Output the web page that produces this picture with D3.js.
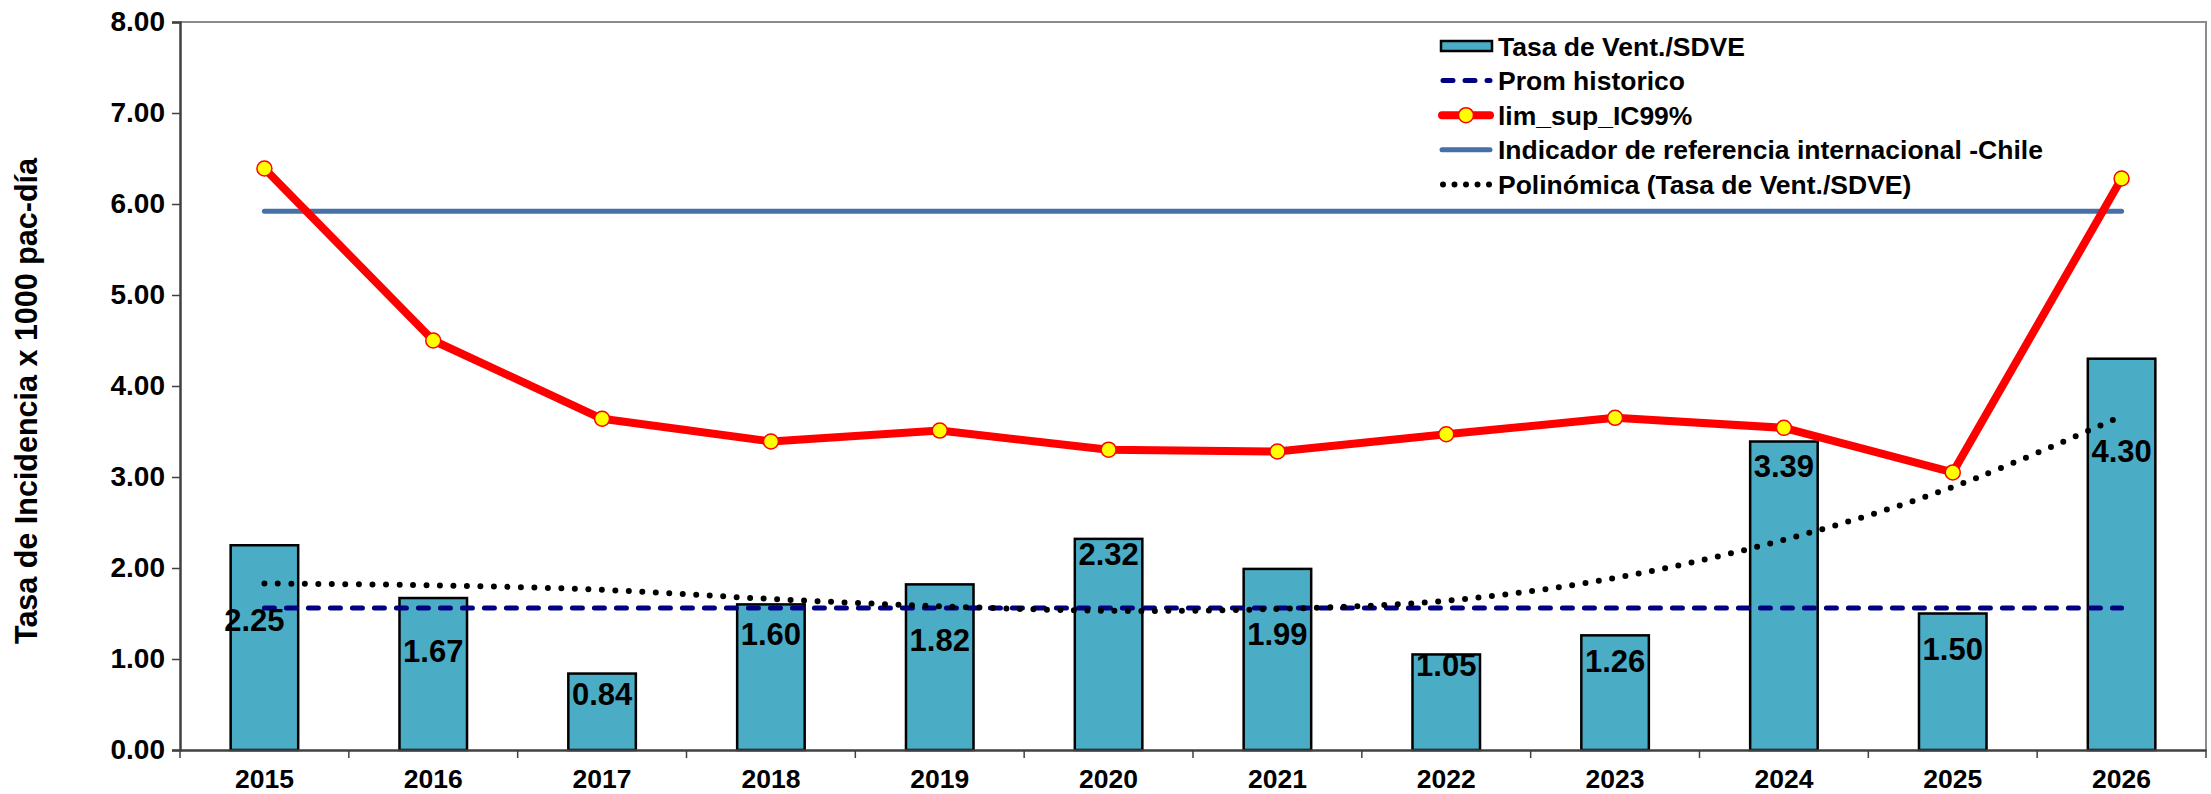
<!DOCTYPE html>
<html>
<head>
<meta charset="utf-8">
<script src="https://cdn.jsdelivr.net/npm/d3@7"></script>
<style>
  html, body { margin: 0; padding: 0; background: #fff; }
  svg { display: block; }
  text { font-family: "Liberation Sans", Arial, sans-serif; font-weight: bold; fill: #000; }
</style>
</head>
<body>
<svg id="chart" width="2211" height="794"></svg>
<script>
// chart values
const years = ["2015", "2016", "2017", "2018", "2019", "2020", "2021", "2022", "2023", "2024", "2025", "2026"];
const tasaVent = [2.25, 1.67, 0.84, 1.60, 1.82, 2.32, 1.99, 1.05, 1.26, 3.39, 1.50, 4.30];
const limSupIC99 = [6.39, 4.50, 3.64, 3.39, 3.51, 3.30, 3.28, 3.47, 3.65, 3.54, 3.05, 6.28];
const polinomica = [1.83, 1.81, 1.76, 1.66, 1.58, 1.53, 1.55, 1.64, 1.89, 2.31, 2.89, 3.67];
const promHistorico = 1.56;
const refChile = 5.92;
const yTicks = [0, 1, 2, 3, 4, 5, 6, 7, 8];

// where Excel dropped each bar label (px below bar top), layout only
const labelDy = [75, 53, 20, 29, 55, 15, 65, 10, 25, 24, 35, 92];
const labelDx = [-10, 0, 0, 0, 0, 0, 0, 0, 0, 0, 0, 0];

const legendItems = [
    { key: "bar", label: "Tasa de Vent./SDVE" },
    { key: "prom", label: "Prom historico" },
    { key: "lim", label: "lim_sup_IC99%" },
    { key: "ref", label: "Indicador de referencia internacional -Chile" },
    { key: "poly", label: "Polinómica (Tasa de Vent./SDVE)" }
];

const plot = { left: 180, right: 2206, top: 22, bottom: 750 };

const svg = d3.select("#chart");

const x = d3.scaleBand()
    .domain(years)
    .range([plot.left, plot.right])
    .paddingInner(0.6)
    .paddingOuter(0.3);

const y = d3.scaleLinear()
    .domain([0, 8])
    .range([plot.bottom, plot.top]);

const cx = d => x(d) + x.bandwidth() / 2;

// plot area frame (top and right edges are light grey)
svg.append("path")
    .attr("d", `M${plot.left},${plot.top}H${plot.right}V${plot.bottom}`)
    .attr("fill", "none")
    .attr("stroke", "#8c8c8c")
    .attr("stroke-width", 2);

// bars
svg.append("g")
    .selectAll("rect")
    .data(tasaVent)
    .join("rect")
    .attr("x", (d, i) => x(years[i]))
    .attr("y", d => y(d))
    .attr("width", x.bandwidth())
    .attr("height", d => y(0) - y(d))
    .attr("fill", "#4bacc6")
    .attr("stroke", "#000")
    .attr("stroke-width", 2.5);

// historic average, dashed navy
svg.append("line")
    .attr("x1", cx(years[0]))
    .attr("x2", cx(years[years.length - 1]))
    .attr("y1", y(promHistorico))
    .attr("y2", y(promHistorico))
    .attr("stroke", "#000080")
    .attr("stroke-width", 5)
    .attr("stroke-linecap", "round")
    .attr("stroke-dasharray", "10,12");

// polynomial trend, round dots
svg.append("path")
    .datum(polinomica)
    .attr("d", d3.line()
        .x((d, i) => cx(years[i]))
        .y(d => y(d))
        .curve(d3.curveCatmullRom))
    .attr("fill", "none")
    .attr("stroke", "#000")
    .attr("stroke-width", 6)
    .attr("stroke-linecap", "round")
    .attr("stroke-dasharray", "0,13.5");

// international reference line
svg.append("line")
    .attr("x1", cx(years[0]))
    .attr("x2", cx(years[years.length - 1]))
    .attr("y1", y(refChile))
    .attr("y2", y(refChile))
    .attr("stroke", "#4670a8")
    .attr("stroke-width", 5)
    .attr("stroke-linecap", "round");

// upper limit IC99 line with markers
svg.append("path")
    .datum(limSupIC99)
    .attr("d", d3.line()
        .x((d, i) => cx(years[i]))
        .y(d => y(d)))
    .attr("fill", "none")
    .attr("stroke", "#ff0000")
    .attr("stroke-width", 8)
    .attr("stroke-linejoin", "round");

svg.append("g")
    .selectAll("circle")
    .data(limSupIC99)
    .join("circle")
    .attr("cx", (d, i) => cx(years[i]))
    .attr("cy", d => y(d))
    .attr("r", 7.5)
    .attr("fill", "#ffff00")
    .attr("stroke", "#ff0000")
    .attr("stroke-width", 1.5);

// bar value labels
svg.append("g")
    .selectAll("text")
    .data(tasaVent)
    .join("text")
    .attr("x", (d, i) => cx(years[i]) + labelDx[i])
    .attr("y", (d, i) => y(d) + labelDy[i])
    .attr("dy", "0.36em")
    .attr("text-anchor", "middle")
    .attr("font-size", 31)
    .text(d => d.toFixed(2));

// y axis
const yAxis = svg.append("g")
    .attr("transform", `translate(${plot.left},0)`)
    .call(d3.axisLeft(y).tickValues(yTicks).tickFormat(d3.format(".2f")).tickSize(8).tickPadding(7));
yAxis.select(".domain").attr("stroke", "#404040").attr("stroke-width", 2.5);
yAxis.selectAll(".tick line").attr("stroke", "#404040").attr("stroke-width", 1.5);
yAxis.selectAll(".tick text")
    .attr("font-family", "'DejaVu Sans', sans-serif")
    .attr("font-size", 28)
    .attr("font-weight", "bold")
    .attr("fill", "#000");

// x axis, ticks sit between categories
const xAxis = svg.append("g")
    .attr("transform", `translate(0,${plot.bottom})`)
    .call(d3.axisBottom(x).tickSize(0).tickPadding(28));
xAxis.select(".domain").attr("stroke", "#404040").attr("stroke-width", 2.5);
xAxis.selectAll(".tick text")
    .attr("font-family", "'Liberation Sans', Arial, sans-serif")
    .attr("font-size", 26.5)
    .attr("font-weight", "bold")
    .attr("fill", "#000")
    .attr("dy", "0.36em");
xAxis.selectAll(".sep")
    .data(d3.range(years.length + 1))
    .join("line")
    .attr("class", "sep")
    .attr("x1", i => plot.left + i * x.step())
    .attr("x2", i => plot.left + i * x.step())
    .attr("y1", 0)
    .attr("y2", 8)
    .attr("stroke", "#404040")
    .attr("stroke-width", 1.5);

// y axis title
svg.append("text")
    .attr("transform", `translate(26,401) rotate(-90)`)
    .attr("text-anchor", "middle")
    .attr("dy", "0.36em")
    .attr("font-size", 30.5)
    .text("Tasa de Incidencia x 1000 pac-día");

// legend
const legend = svg.append("g").attr("transform", "translate(1440,46)");
const row = legend.selectAll("g")
    .data(legendItems)
    .join("g")
    .attr("transform", (d, i) => `translate(0,${i * 34.6})`);

row.each(function (d) {
    const g = d3.select(this);
    if (d.key === "bar") {
        g.append("rect").attr("x", 1).attr("y", -5).attr("width", 51).attr("height", 10)
            .attr("fill", "#4bacc6").attr("stroke", "#000").attr("stroke-width", 2.5);
    } else if (d.key === "prom") {
        g.append("line").attr("x1", 3).attr("x2", 50).attr("y1", 0).attr("y2", 0)
            .attr("stroke", "#000080").attr("stroke-width", 5)
            .attr("stroke-linecap", "round").attr("stroke-dasharray", "10,12");
    } else if (d.key === "lim") {
        g.append("line").attr("x1", 2).attr("x2", 50).attr("y1", 0).attr("y2", 0)
            .attr("stroke", "#ff0000").attr("stroke-width", 8).attr("stroke-linecap", "round");
        g.append("circle").attr("cx", 26).attr("cy", 0).attr("r", 7.5)
            .attr("fill", "#ffff00").attr("stroke", "#ff0000").attr("stroke-width", 1.5);
    } else if (d.key === "ref") {
        g.append("line").attr("x1", 2).attr("x2", 50).attr("y1", 0).attr("y2", 0)
            .attr("stroke", "#4670a8").attr("stroke-width", 5).attr("stroke-linecap", "round");
    } else {
        g.append("line").attr("x1", 3).attr("x2", 50).attr("y1", 0).attr("y2", 0)
            .attr("stroke", "#000").attr("stroke-width", 6)
            .attr("stroke-linecap", "round").attr("stroke-dasharray", "0,11.5");
    }
    g.append("text")
        .attr("x", 58)
        .attr("dy", "0.36em")
        .attr("font-size", 26.5)
        .text(d.label);
});
</script>
</body>
</html>
